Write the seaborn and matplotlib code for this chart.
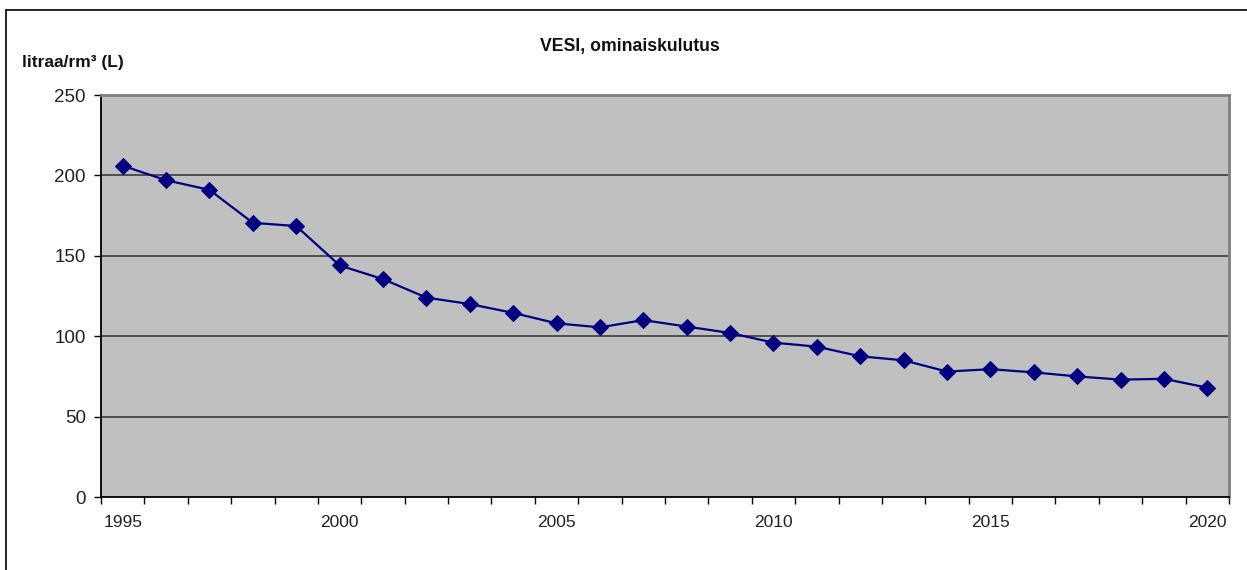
import matplotlib
matplotlib.use("Agg")
import matplotlib.pyplot as plt
import seaborn as sns
import pandas as pd
import numpy as np
from matplotlib.lines import Line2D

years = list(range(1995, 2021))
values = [206, 197, 191, 170.5, 168.5, 144, 135.5, 124, 120, 114.5, 108, 105.5,
          110, 106, 102, 96, 93.5, 87.5, 85, 78, 79.5, 77.5, 75, 73, 73.5, 68]
label_years = [1995, 2000, 2005, 2010, 2015, 2020]
y_ticks = [0, 50, 100, 150, 200, 250]

sns.set_theme(style="white")
plt.rcParams['font.family'] = ['Liberation Sans', 'DejaVu Sans']

df = pd.DataFrame({"pos": np.arange(len(years)), "year": years, "value": values})

W, H = 1247, 570
fig = plt.figure(figsize=(W / 100, H / 100), dpi=100)
ax = fig.add_axes([101 / W, 1 - 497 / H, (1229 - 101) / W, (497 - 95) / H])
ax.set_facecolor("#c0c0c0")

for yv in y_ticks[1:-1]:
    ax.axhline(yv, color="#3a3a3a", lw=1.2, zorder=1)

sns.lineplot(data=df, x="pos", y="value", ax=ax, color="#000080", lw=1.6,
             marker="D", markersize=8, markeredgecolor="#000080", zorder=3)

ax.set_xlim(-0.5, len(years) - 0.5)
ax.set_ylim(0, 250)
ax.set_yticks(y_ticks)
ax.set_yticklabels([str(v) for v in y_ticks], fontsize=13.5, color="#222222")
ax.tick_params(axis="y", length=5, width=1, color="black", pad=6, left=True, direction="out")

major_pos = [years.index(y) for y in label_years]
ax.set_xticks(major_pos)
ax.set_xticklabels([str(y) for y in label_years], fontsize=12.5, color="#222222")
ax.tick_params(axis="x", which="major", length=0, pad=13)
ax.set_xticks(np.arange(-0.5, len(years), 1.0), minor=True)
ax.tick_params(axis="x", which="minor", length=5, width=1, color="black", direction="out", bottom=True)

ax.set_xlabel("")
ax.set_ylabel("")

for side in ["top", "right"]:
    ax.spines[side].set_visible(True)
    ax.spines[side].set_color("#808080")
    ax.spines[side].set_linewidth(2)
for side in ["left", "bottom"]:
    ax.spines[side].set_visible(True)
    ax.spines[side].set_color("black")
    ax.spines[side].set_linewidth(1.3)

fig.text(630 / W, 1 - 46 / H, "VESI, ominaiskulutus", ha="center", va="center",
         fontsize=12.7, fontweight="bold", color="#111111")
fig.text(22 / W, 1 - 63 / H, "litraa/rm³ (L)", ha="left", va="center",
         fontsize=12.5, fontweight="bold", color="#111111")

fig.add_artist(Line2D([6 / W, 1.0], [1 - 10 / H, 1 - 10 / H], color="black", lw=1.2,
                      transform=fig.transFigure))
fig.add_artist(Line2D([6 / W, 6 / W], [1 - 10 / H, 0], color="black", lw=1.2,
                      transform=fig.transFigure))

fig.savefig("out.png", dpi=100, facecolor="white")
